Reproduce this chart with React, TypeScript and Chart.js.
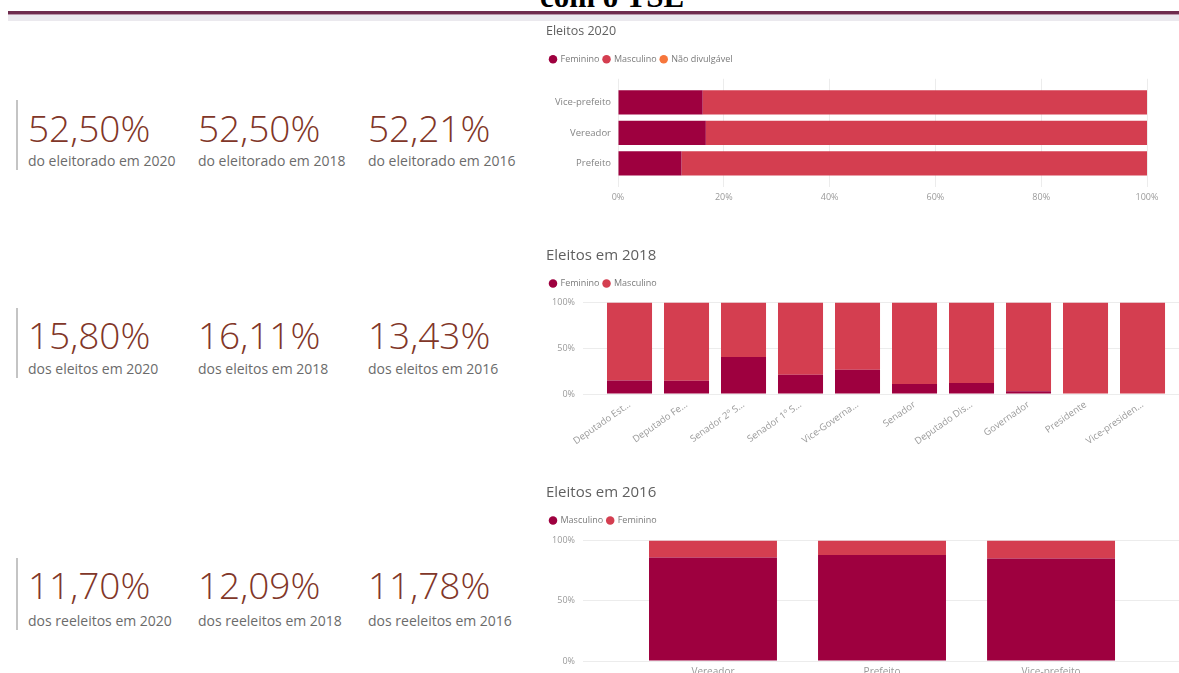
import React, { useEffect, useRef } from "react";
import { Chart, registerables } from "chart.js";

Chart.register(...registerables);

// ---------------- DATA ----------------
const HEADER_TEXT = "com o TSE";

const KPI_ELEITORADO = ["52,50%", "52,50%", "52,21%"];
const KPI_ELEITORADO_LABELS = ["do eleitorado em 2020", "do eleitorado em 2018", "do eleitorado em 2016"];
const KPI_ELEITOS = ["15,80%", "16,11%", "13,43%"];
const KPI_ELEITOS_LABELS = ["dos eleitos em 2020", "dos eleitos em 2018", "dos eleitos em 2016"];
const KPI_REELEITOS = ["11,70%", "12,09%", "11,78%"];
const KPI_REELEITOS_LABELS = ["dos reeleitos em 2020", "dos reeleitos em 2018", "dos reeleitos em 2016"];

const TITLE_2020 = "Eleitos 2020";
const CAT_2020 = ["Vice-prefeito", "Vereador", "Prefeito"];
const FEM_2020 = [16.0, 16.6, 12.0];
const MASC_2020 = [84.0, 83.4, 88.0];
const NAO_DIV_2020 = [0, 0, 0];

const TITLE_2018 = "Eleitos em 2018";
const CAT_2018 = [
  "Deputado Est...",
  "Deputado Fe...",
  "Senador 2º S...",
  "Senador 1º S...",
  "Vice-Governa...",
  "Senador",
  "Deputado Dis...",
  "Governador",
  "Presidente",
  "Vice-presiden...",
];
const FEM_2018 = [14.9, 14.5, 40.6, 21.0, 26.4, 10.9, 12.0, 2.9, 0, 0];
const MASC_2018 = [85.1, 85.5, 59.4, 79.0, 73.6, 89.1, 88.0, 97.1, 100, 100];

const TITLE_2016 = "Eleitos em 2016";
const CAT_2016 = ["Vereador", "Prefeito", "Vice-prefeito"];
const MASC_2016 = [86.0, 88.1, 85.1];
const FEM_2016 = [14.0, 11.9, 14.9];

// ---------------- STYLE ----------------
const FONT = '"Open Sans", "Noto Sans", "DejaVu Sans", sans-serif';
const C_DARK = "#9e003f";
const C_RED = "#d43e50";
const C_ORANGE = "#f6763c";
const GRID = "#ececec";
const TICK_COLOR = "#9a9a9a";
const TITLE_COLOR = "#5f5f5f";
const LEGEND_COLOR = "#7a7a7a";

const legendGap = (gap: number) => ({
  id: "legendGap",
  beforeInit(chart: any) {
    const orig = chart.legend.fit;
    chart.legend.fit = function () {
      orig.call(this);
      this.height += gap;
    };
  },
});

const baseTitle = (text: string, size: number, pt: number, pb: number) => ({
  display: true,
  text,
  align: "start" as const,
  color: TITLE_COLOR,
  font: { family: FONT, size, weight: "normal" as const },
  padding: { top: pt, bottom: pb },
});

const baseLegend = () => ({
  display: true,
  position: "top" as const,
  align: "start" as const,
  labels: {
    usePointStyle: true,
    pointStyle: "circle",
    boxWidth: 6,
    boxHeight: 6,
    padding: 4,
    color: LEGEND_COLOR,
    font: { family: FONT, size: 9 },
  },
});

const pct = (v: any) => v + "%";

function build2020(): any {
  const pts = (vals: number[]) => vals.map((v, i) => ({ x: v, y: i }));
  return {
    type: "bar",
    data: {
      datasets: [
        { label: "Feminino", data: pts(FEM_2020), backgroundColor: C_DARK },
        { label: "Masculino", data: pts(MASC_2020), backgroundColor: C_RED },
        { label: "Não divulgável", data: pts(NAO_DIV_2020), backgroundColor: C_ORANGE },
      ],
    },
    options: {
      indexAxis: "y",
      responsive: false,
      animation: false,
      devicePixelRatio: 1,
      layout: { padding: { left: 0, right: 32, top: 0, bottom: 0 } },
      datasets: { bar: { barPercentage: 1, categoryPercentage: 0.8, borderWidth: 0 } },
      plugins: {
        title: baseTitle(TITLE_2020, 12.5, 3.5, 12.3),
        legend: baseLegend(),
        tooltip: { enabled: false },
      },
      scales: {
        x: {
          type: "linear",
          stacked: true,
          min: 0,
          max: 100,
          afterFit: (s: any) => {
            s.height = 17;
          },
          ticks: { stepSize: 20, callback: pct, color: TICK_COLOR, font: { family: FONT, size: 9 }, padding: 5 },
          grid: { color: GRID, drawTicks: false },
          border: { display: false },
        },
        y: {
          type: "linear",
          stacked: true,
          reverse: true,
          offset: false,
          bounds: "data",
          min: -0.774,
          max: 2.774,
          afterBuildTicks: (s: any) => {
            s.ticks = CAT_2020.map((_, i) => ({ value: i }));
          },
          afterFit: (s: any) => {
            s.width = 72;
          },
          ticks: {
            autoSkip: false,
            callback: (v: any) => CAT_2020[v],
            color: "#858585",
            font: { family: FONT, size: 9.5 },
            padding: 7,
          },
          grid: { display: false, drawTicks: false },
          border: { display: false },
        },
      },
    },
    plugins: [legendGap(5)],
  };
}

function buildColumns(
  title: string,
  cats: string[],
  series: { label: string; values: number[]; color: string }[],
  xmin: number,
  xmax: number,
  catPct: number,
  rotation: number,
  xHeight: number,
  xPad: number,
  xFont: number,
  gap: number
): any {
  return {
    type: "bar",
    data: {
      datasets: series.map((s) => ({
        label: s.label,
        data: s.values.map((v, i) => ({ x: i, y: v })),
        backgroundColor: s.color,
      })),
    },
    options: {
      responsive: false,
      animation: false,
      devicePixelRatio: 1,
      layout: { padding: 0 },
      datasets: { bar: { barPercentage: 1, categoryPercentage: catPct, borderWidth: 0 } },
      plugins: {
        title: baseTitle(title, 15, 7.0, 10.1),
        legend: baseLegend(),
        tooltip: { enabled: false },
      },
      scales: {
        x: {
          type: "linear",
          stacked: true,
          offset: false,
          bounds: "data",
          min: xmin,
          max: xmax,
          afterBuildTicks: (s: any) => {
            s.ticks = cats.map((_, i) => ({ value: i }));
          },
          afterFit: (s: any) => {
            s.height = xHeight;
          },
          ticks: {
            autoSkip: false,
            minRotation: rotation,
            maxRotation: rotation,
            callback: (v: any) => cats[v],
            color: TICK_COLOR,
            font: { family: FONT, size: xFont },
            padding: xPad,
          },
          grid: { display: false, drawTicks: false },
          border: { display: false },
        },
        y: {
          type: "linear",
          stacked: true,
          min: 0,
          max: 100,
          afterFit: (s: any) => {
            s.width = 37;
          },
          ticks: { stepSize: 50, callback: pct, color: TICK_COLOR, font: { family: FONT, size: 9 }, padding: 8 },
          grid: { color: GRID, drawTicks: false },
          border: { display: false },
        },
      },
    },
    plugins: [legendGap(gap)],
  };
}

function build2018(): any {
  return buildColumns(
    TITLE_2018,
    CAT_2018,
    [
      { label: "Feminino", values: FEM_2018, color: C_DARK },
      { label: "Masculino", values: MASC_2018, color: C_RED },
    ],
    -0.816,
    9.64,
    0.79,
    35,
    56,
    5,
    9.5,
    4.5
  );
}

function build2016(): any {
  return buildColumns(
    TITLE_2016,
    CAT_2016,
    [
      { label: "Masculino", values: MASC_2016, color: C_DARK },
      { label: "Feminino", values: FEM_2016, color: C_RED },
    ],
    -0.769,
    2.757,
    0.757,
    0,
    17,
    5,
    10,
    5.5
  );
}

function ChartBox(props: { left: number; top: number; width: number; height: number; build: () => any }) {
  const ref = useRef<HTMLCanvasElement>(null);
  useEffect(() => {
    const chart = new Chart(ref.current as HTMLCanvasElement, props.build());
    return () => chart.destroy();
  }, []);
  return (
    <canvas
      ref={ref}
      width={props.width}
      height={props.height}
      style={{ position: "absolute", left: props.left, top: props.top, width: props.width, height: props.height }}
    />
  );
}

const KPI_ROWS = [
  { values: KPI_ELEITORADO, labels: KPI_ELEITORADO_LABELS, barTop: 100, barH: 70, numTop: 109, labTop: 153.6 },
  { values: KPI_ELEITOS, labels: KPI_ELEITOS_LABELS, barTop: 308, barH: 70, numTop: 316, labTop: 361.6 },
  { values: KPI_REELEITOS, labels: KPI_REELEITOS_LABELS, barTop: 558, barH: 72, numTop: 566, labTop: 613.6 },
];
const KPI_COLS = [28, 198, 368];

export default function App() {
  return (
    <div
      style={{
        position: "fixed",
        left: 0,
        top: 0,
        width: 1179,
        height: 673,
        overflow: "hidden",
        background: "#ffffff",
        fontFamily: FONT,
      }}
    >
      <div
        style={{
          position: "absolute",
          left: 540,
          top: -19,
          fontFamily: '"Liberation Serif", "DejaVu Serif", serif',
          fontWeight: "bold",
          fontSize: 31,
          lineHeight: "31px",
          color: "#000",
          whiteSpace: "nowrap",
        }}
      >
        {HEADER_TEXT}
      </div>
      <div style={{ position: "absolute", left: 8, top: 11, width: 1171, height: 3, background: "#6e2c4d" }} />
      <div style={{ position: "absolute", left: 8, top: 14, width: 1171, height: 1, background: "#b894a8" }} />
      <div style={{ position: "absolute", left: 8, top: 15, width: 1171, height: 6, background: "#ebe9ee" }} />

      {KPI_ROWS.map((row, r) => (
        <React.Fragment key={r}>
          <div
            style={{ position: "absolute", left: 16, top: row.barTop, width: 2, height: row.barH, background: "#c4c4c4" }}
          />
          {row.values.map((v, c) => (
            <React.Fragment key={c}>
              <div
                style={{
                  position: "absolute",
                  left: KPI_COLS[c],
                  top: row.numTop,
                  fontSize: 37,
                  lineHeight: "37px",
                  fontWeight: 300,
                  color: "#813628",
                  whiteSpace: "nowrap",
                }}
              >
                {v}
              </div>
              <div
                style={{
                  position: "absolute",
                  left: KPI_COLS[c],
                  top: row.labTop,
                  fontSize: 14,
                  lineHeight: "14px",
                  color: "#6b6b6b",
                  whiteSpace: "nowrap",
                }}
              >
                {row.labels[c]}
              </div>
            </React.Fragment>
          ))}
        </React.Fragment>
      ))}

      <ChartBox left={546} top={20} width={633} height={184} build={build2020} />
      <ChartBox left={546} top={240} width={633} height={210} build={build2018} />
      <ChartBox left={546} top={477} width={633} height={201} build={build2016} />
    </div>
  );
}
